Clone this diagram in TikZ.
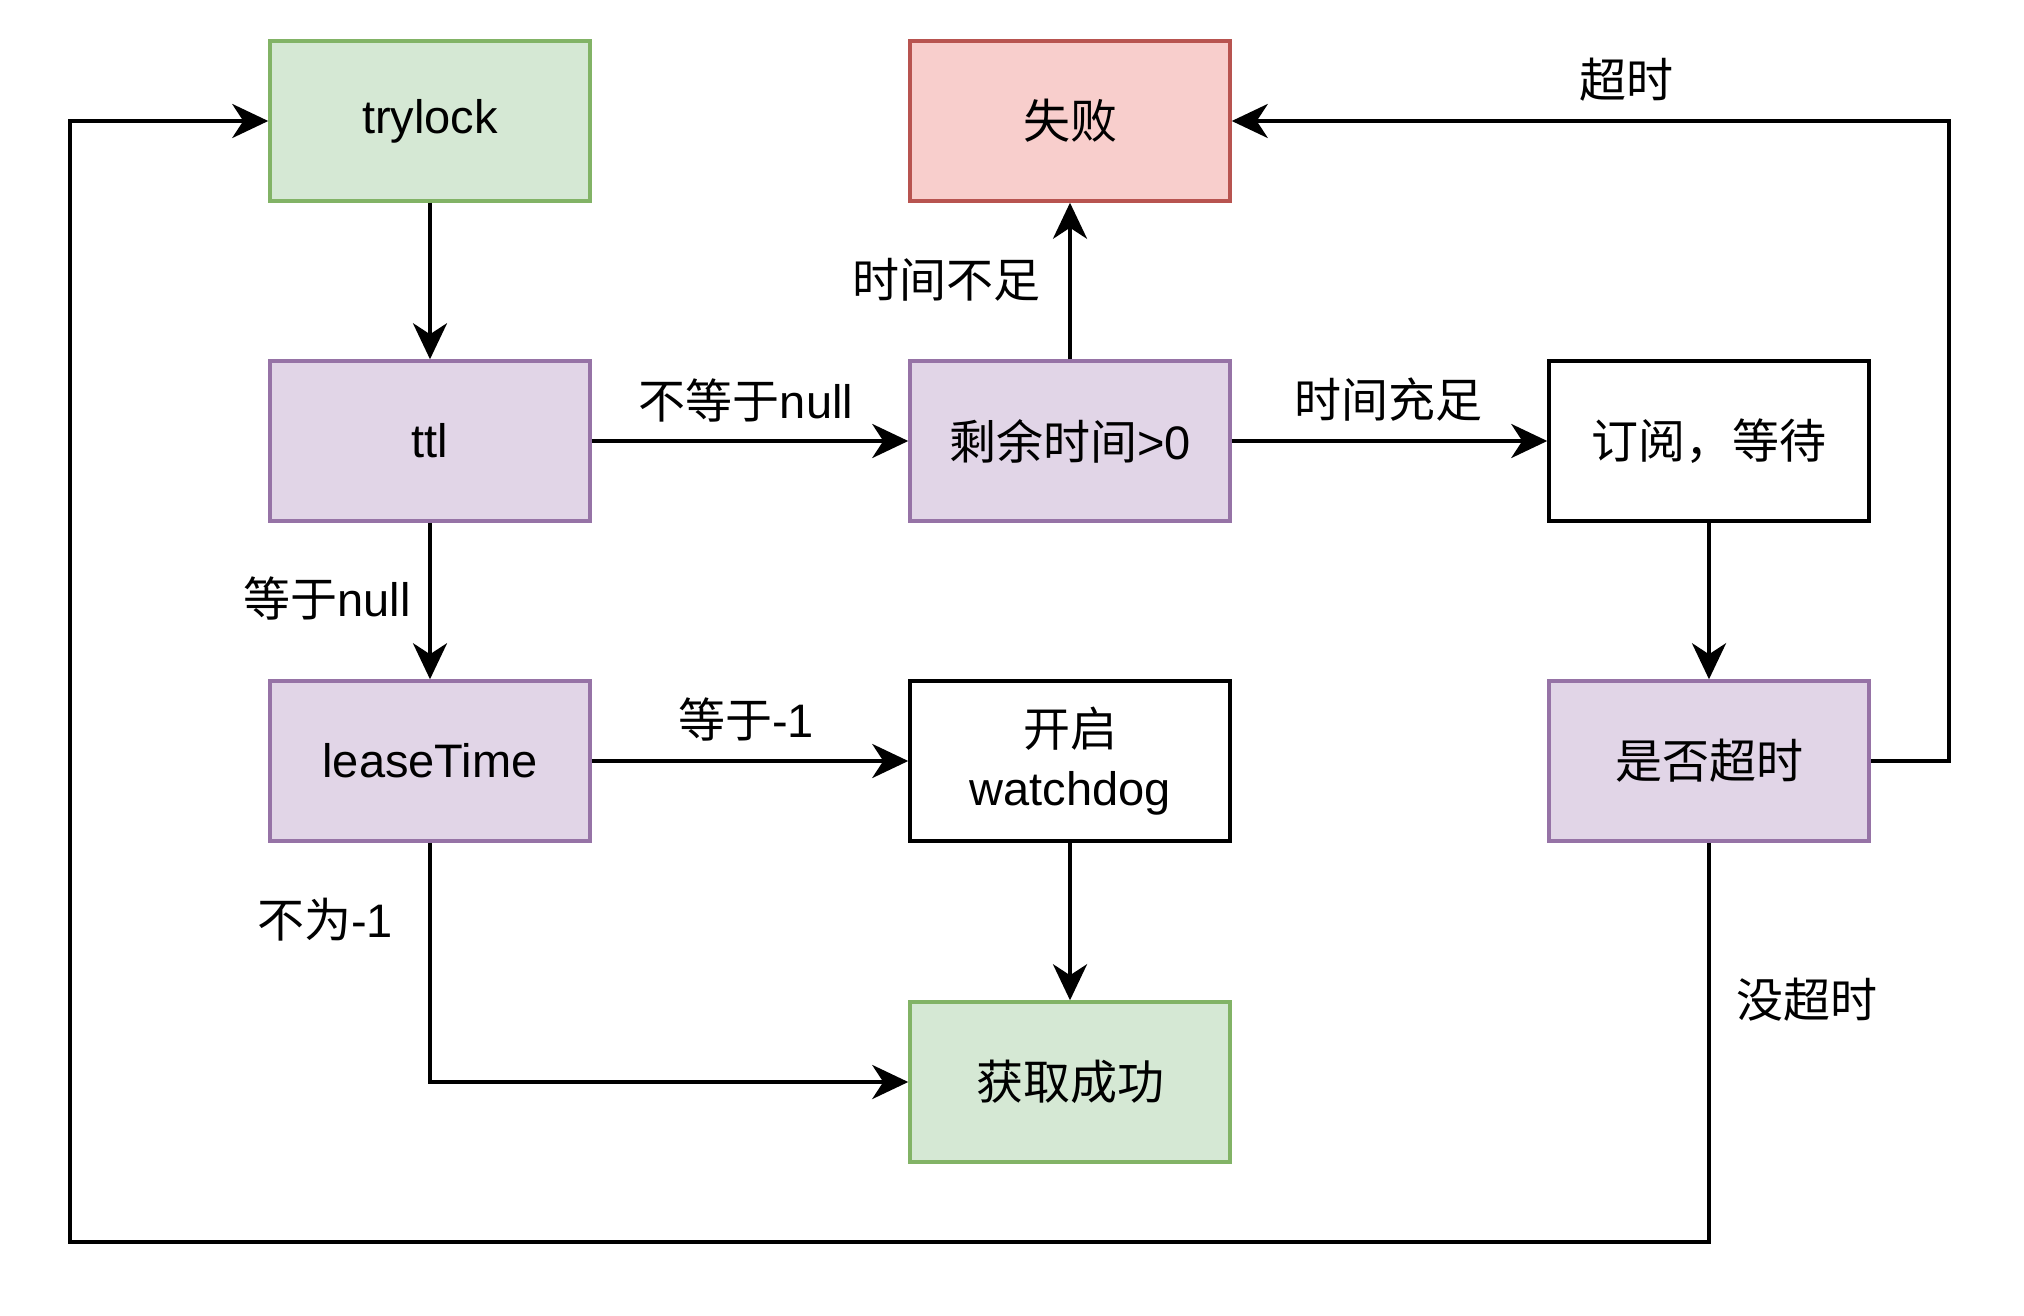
\documentclass[tikz,border=0pt]{standalone}
\usepackage{fontspec}
\setmainfont{Liberation Sans}
\newfontfamily\cjk{Noto Sans CJK SC}
\usetikzlibrary{arrows.meta}
\definecolor{gfill}{HTML}{D5E8D4}
\definecolor{gline}{HTML}{82B366}
\definecolor{rfill}{HTML}{F8CECC}
\definecolor{rline}{HTML}{B85450}
\definecolor{pfill}{HTML}{E1D5E7}
\definecolor{pline}{HTML}{9673A6}
\begin{document}
\begin{tikzpicture}[x=1pt,y=-1pt,
  box/.style={draw, line width=3.5pt, rectangle, minimum width=320pt, minimum height=160pt, inner sep=0pt, align=center, font=\fontsize{47}{59}\selectfont},
  green/.style={box, fill=gfill, draw=gline},
  red/.style={box, fill=rfill, draw=rline},
  purple/.style={box, fill=pfill, draw=pline},
  plain/.style={box, fill=white, draw=black},
  lbl/.style={inner sep=0pt, font=\fontsize{47}{59}\selectfont},
  arr/.style={line width=4pt, -{Stealth[length=36pt,width=34pt,inset=11pt]}},
  ln/.style={line width=4pt}]
\useasboundingbox (0,0) rectangle (2024,1316);
\fill[white] (0,0) rectangle (2024,1316);

\node[green]  (trylock) at (430,121)  {trylock};
\node[red]    (fail)    at (1070,121) {\cjk 失败};
\node[purple] (ttl)     at (430,441)  {ttl};
\node[purple] (rem)     at (1070,441) {{\cjk 剩余时间}>0};
\node[plain]  (sub)     at (1709,441) {\cjk 订阅，等待};
\node[purple] (lease)   at (430,761)  {leaseTime};
\node[plain]  (wd)      at (1070,761) {{\cjk 开启}\\watchdog};
\node[purple] (tout)    at (1709,761) {\cjk 是否超时};
\node[green]  (succ)    at (1070,1082) {\cjk 获取成功};

\coordinate (rt) at (1949,121);
\coordinate (bl) at (70,1242);

\draw[arr] (trylock.south) -- (ttl.north);
\draw[arr] (ttl.east) -- (rem.west);
\draw[arr] (ttl.south) -- (lease.north);
\draw[arr] (rem.north) -- (fail.south);
\draw[arr] (rem.east) -- (sub.west);
\draw[arr] (sub.south) -- (tout.north);
\draw[arr] (tout.east) -| (rt) -- (fail.east);
\draw[arr] (tout.south) |- (bl) |- (trylock.west);
\draw[arr] (lease.east) -- (wd.west);
\draw[arr] (lease.south) |- (succ.west);
\draw[arr] (wd.south) -- (succ.north);

\node[lbl] (l1) at (746,400) {{\cjk 不等于}null};
\node[lbl] (l2) at (946,280) {\cjk 时间不足};
\node[lbl] (l3) at (1388,400) {\cjk 时间充足};
\node[lbl] (l4) at (1626,80) {\cjk 超时};
\node[lbl] (l5) at (327,598) {{\cjk 等于}null};
\node[lbl] (l6) at (746,719) {{\cjk 等于}-1};
\node[lbl] (l7) at (325,920) {{\cjk 不为}-1};
\node[lbl] (l8) at (1807,1000) {\cjk 没超时};
\end{tikzpicture}
\end{document}
